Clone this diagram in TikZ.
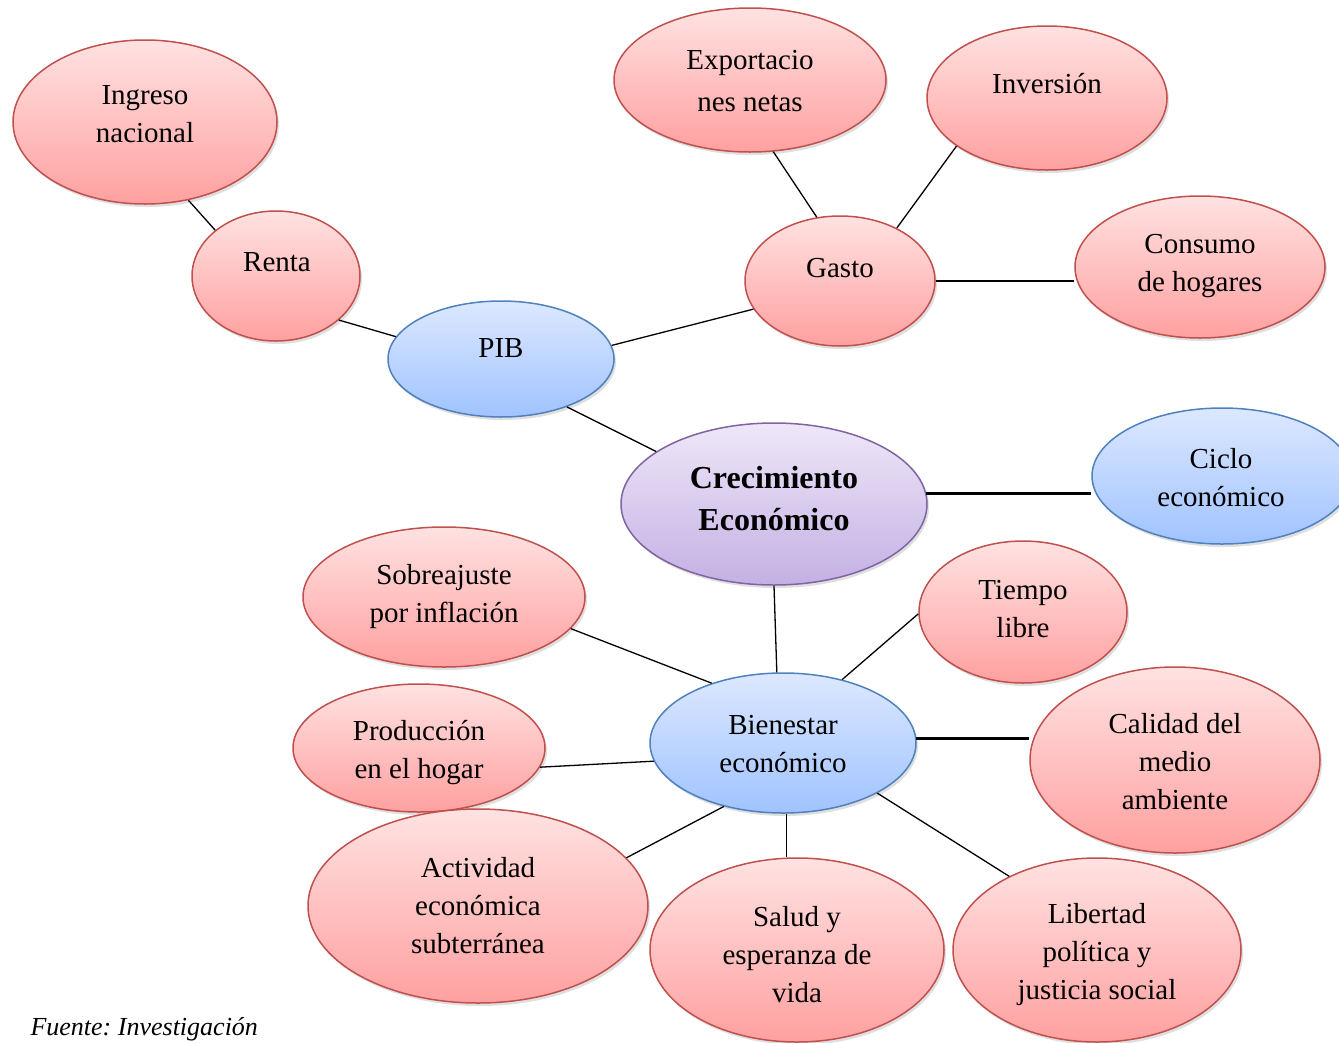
\documentclass[tikz,border=0pt]{standalone}
\usepackage{fontspec}
\setmainfont{Liberation Serif}
\usetikzlibrary{shapes.geometric,shadows}
\frenchspacing
\definecolor{redtop}{RGB}{255,226,226}
\definecolor{redbot}{RGB}{255,160,160}
\definecolor{redln}{RGB}{192,80,77}
\definecolor{bluetop}{RGB}{220,232,255}
\definecolor{bluebot}{RGB}{160,195,255}
\definecolor{blueln}{RGB}{79,129,189}
\definecolor{purtop}{RGB}{238,231,248}
\definecolor{purbot}{RGB}{196,176,228}
\definecolor{purln}{RGB}{128,100,162}
\tikzset{
  ell/.style={ellipse, inner sep=0pt, line width=1.5pt,
    drop shadow={shadow xshift=2pt, shadow yshift=-3pt, opacity=0.25}},
  redell/.style={ell, draw=redln, top color=redtop, bottom color=redbot},
  blueell/.style={ell, draw=blueln, top color=bluetop, bottom color=bluebot},
  purell/.style={ell, draw=purln, top color=purtop, bottom color=purbot},
  txt/.style={align=center, font=\fontsize{29}{38}\selectfont},
  btxt/.style={align=center, font=\fontsize{32}{42}\selectfont\bfseries},
  conn/.style={line width=1.3pt},
  thick conn/.style={line width=3.5pt},
}
\begin{document}
\begin{tikzpicture}[x=1pt,y=-1pt]
\useasboundingbox (0,0) rectangle (1339,1042);
\clip (0,0) rectangle (1339,1042);
% ellipses
\node[redell, minimum width=264, minimum height=164] (ing) at (145,122) {};
\node[redell, minimum width=168, minimum height=130] (renta) at (276,276) {};
\node[blueell, minimum width=226, minimum height=116] (pib) at (501,359) {};
\node[redell, minimum width=272, minimum height=144] (exp) at (750,80) {};
\node[redell, minimum width=240, minimum height=144] (inv) at (1047,98) {};
\node[redell, minimum width=190, minimum height=130] (gasto) at (840,281) {};
\node[redell, minimum width=250, minimum height=142] (cons) at (1200,267) {};
\node[purell, minimum width=306, minimum height=162] (crec) at (774,504) {};
\node[blueell, minimum width=260, minimum height=136] (ciclo) at (1222,476) {};
\node[redell, minimum width=282, minimum height=140] (sobre) at (444,597) {};
\node[redell, minimum width=208, minimum height=142] (tiempo) at (1023,612) {};
\node[redell, minimum width=252, minimum height=128] (prod) at (419,748) {};
\node[blueell, minimum width=266, minimum height=140] (bien) at (783,743) {};
\node[redell, minimum width=290, minimum height=186] (cal) at (1175,760) {};
\node[redell, minimum width=340, minimum height=194] (act) at (478,906) {};
\node[redell, minimum width=294, minimum height=184] (salud) at (797,950) {};
\node[redell, minimum width=288, minimum height=184] (lib) at (1097,950) {};
% texts
\node[txt] (ing-t) at (145,114.5) {Ingreso\\nacional};
\node[txt] (renta-t) at (277,262) {Renta};
\node[txt] (pib-t) at (501,348) {PIB};
\node[txt, font=\fontsize{29}{42}\selectfont] (exp-t) at (750,81) {Exportacio\\nes netas};
\node[txt] (inv-t) at (1047,84) {Inversión};
\node[txt] (gasto-t) at (840,268) {Gasto};
\node[txt] (cons-t) at (1200,266) {Consumo\\de hogares};
\node[btxt] (crec-t) at (774,499) {Crecimiento\\Económico};
\node[txt] (ciclo-t) at (1221,478) {Ciclo\\económico};
\node[txt] (sobre-t) at (444,597) {Sobreajuste\\por inflación};
\node[txt] (tiempo-t) at (1023,609) {Tiempo\\libre};
\node[txt] (prod-t) at (419,753) {Producción\\en el hogar};
\node[txt] (bien-t) at (783,744) {Bienestar\\económico};
\node[txt] (cal-t) at (1175,762) {Calidad del\\medio\\ambiente};
\node[txt] (act-t) at (478,906) {Actividad\\económica\\subterránea};
\node[txt] (salud-t) at (797,955) {Salud y\\esperanza de\\vida};
\node[txt] (lib-t) at (1097,955) {Libertad\\política y\\justicia social};
\node[anchor=base west, font=\fontsize{26}{30}\selectfont\itshape] (fuente) at (27,1035) {Fuente: Investigación};
% connectors
\draw[conn] (ing.-61) -- (renta.143);
\draw[conn] (renta.-35) -- (pib.168);
\draw[conn] (pib.7) -- (gasto.-162);
\draw[conn] (gasto.110) -- (exp.-72);
\draw[conn] (gasto.43) -- (inv.-152);
\draw[conn] (gasto.east) -- (gasto.east -| cons.west);
\draw[conn] (pib.-36) -- (crec.156);
\draw[thick conn] (crec.4) -- (crec.4 -| ciclo.west);
\draw[conn] (crec.south) -- (bien.95);
\draw[conn] (sobre.-14) -- (bien.140);
\draw[conn] (tiempo.181) -- (bien.47);
\draw[conn] (prod.-9) -- (bien.-172);
\draw[thick conn] (bien.2.5) -- (bien.2.5 -| cal.west);
\draw[conn] (bien.-133) -- (act.18);
\draw[conn] (bien.-87) -- (bien.-87 |- salud.north);
\draw[conn] (bien.-28) -- (lib.140);
\end{tikzpicture}
\end{document}
